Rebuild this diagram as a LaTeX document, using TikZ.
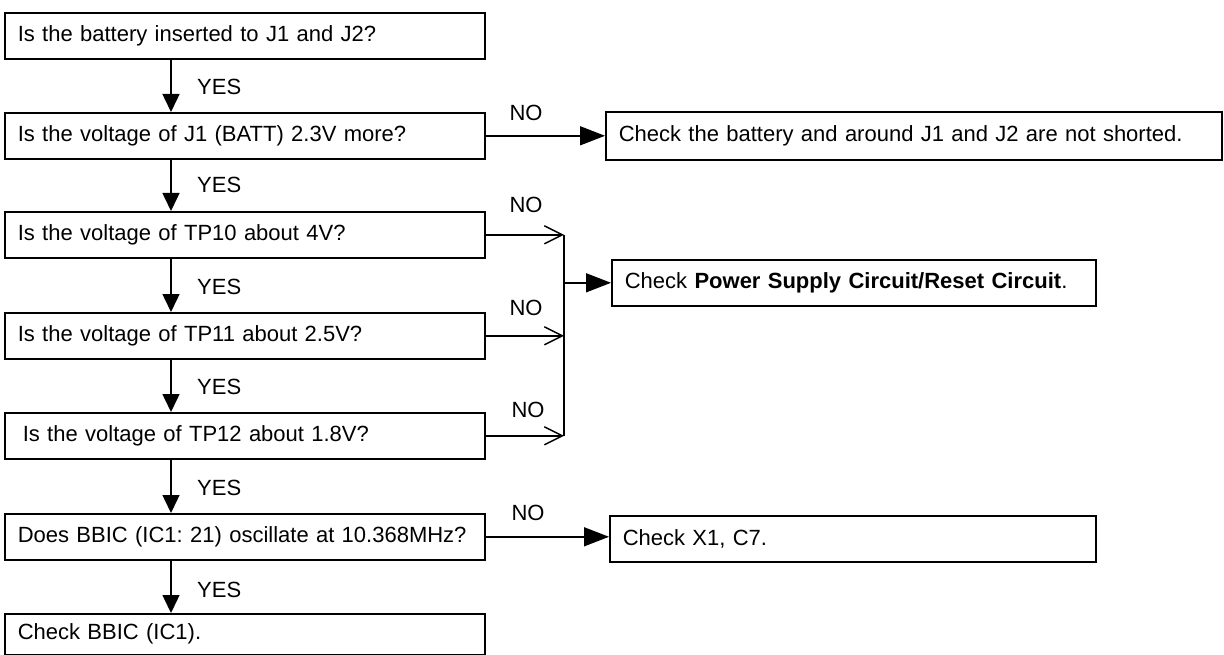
\documentclass[tikz,border=0pt]{standalone}
\usepackage{fontspec}
\setmainfont{Liberation Sans}
\usetikzlibrary{arrows.meta}
\frenchspacing
\begin{document}
\begin{tikzpicture}[x=1pt,y=-1pt,
  every node/.style={font=\fontsize{22}{25}\selectfont},
  box/.style={draw, line width=1.6pt, anchor=north west, inner xsep=13pt, inner ysep=0pt, align=left, minimum height=46pt},
  lbox/.style={box, text width=454pt},
  lbl/.style={inner sep=0pt},
  yesflow/.style={line width=1.5pt, -{Triangle[length=18pt,width=17pt]}},
  noflow/.style={line width=1.5pt, -{Triangle[length=25pt,width=19pt]}},
  openflow/.style={line width=1.5pt, -{Straight Barb[length=18pt,width=18pt,line width=1.5pt]}},
  plain/.style={line width=1.5pt}
]
\useasboundingbox (0,0) rectangle (1224,655);

% left column
\node[lbox] (b1) at (4,12)  {Is the battery inserted to J1 and J2?};
\node[lbox] (b2) at (4,112) {Is the voltage of J1 (BATT) 2.3V more?};
\node[lbox] (b3) at (4,211) {Is the voltage of TP10 about 4V?};
\node[lbox] (b4) at (4,312) {Is the voltage of TP11 about 2.5V?};
\node[lbox] (b5) at (4,412) {\hspace*{5pt}Is the voltage of TP12 about 1.8V?};
\node[lbox] (b6) at (4,513) {Does BBIC (IC1: 21) oscillate at 10.368MHz?};
\node[lbox, minimum height=41pt] (b7) at (4,613) {\raisebox{-3.5pt}{Check BBIC (IC1).}};

% right column
\node[box, text width=590pt, minimum height=48pt] (r1) at (605,111) {Check the battery and around J1 and J2 are not shorted.};
\node[box, text width=458pt] (r2) at (611,259) {Check \textbf{Power Supply Circuit/Reset Circuit}.};
\node[box, text width=460pt] (r3) at (609,515) {Check X1, C7.};

% helper coordinates
\coordinate (ax) at (171,0);
\coordinate (mx) at (564,0);

% YES arrows
\draw[yesflow] (b1.south -| ax) -- (b2.north -| ax);
\draw[yesflow] (b2.south -| ax) -- (b3.north -| ax);
\draw[yesflow] (b3.south -| ax) -- (b4.north -| ax);
\draw[yesflow] (b4.south -| ax) -- (b5.north -| ax);
\draw[yesflow] (b5.south -| ax) -- (b6.north -| ax);
\draw[yesflow] (b6.south -| ax) -- (b7.north -| ax);

\node[lbl, anchor=west] (y1) at (197,87)  {YES};
\node[lbl, anchor=west] (y2) at (197,185) {YES};
\node[lbl, anchor=west] (y3) at (197,287) {YES};
\node[lbl, anchor=west] (y4) at (197,387) {YES};
\node[lbl, anchor=west] (y5) at (197,488) {YES};
\node[lbl, anchor=west] (y6) at (197,590) {YES};

% NO arrows
\draw[noflow] (b2.east) -- (b2.east -| r1.west);
\draw[openflow] (b3.east) -- (b3.east -| mx);
\draw[openflow] (b4.east) -- (b4.east -| mx);
\draw[openflow] (b5.east) -- (b5.east -| mx);
\draw[plain] (b3.east -| mx) -- (b5.east -| mx);
\draw[noflow] (r2.west -| mx) -- (r2.west);
\draw[noflow] (b6.east) -- (b6.east -| r3.west);

\node[lbl] (n1) at (526,113) {NO};
\node[lbl] (n2) at (526,205) {NO};
\node[lbl] (n3) at (526,308) {NO};
\node[lbl] (n4) at (528,410) {NO};
\node[lbl] (n5) at (528,513) {NO};
\end{tikzpicture}
\end{document}
